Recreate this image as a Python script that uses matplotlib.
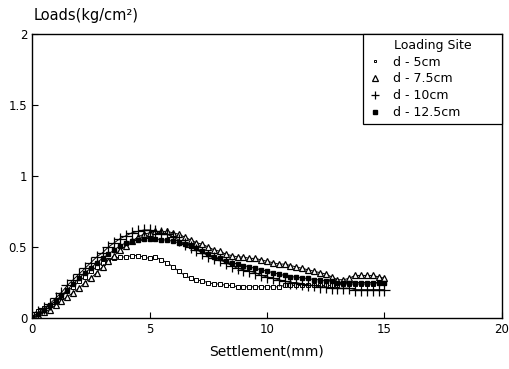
import numpy as np
import matplotlib
matplotlib.use("Agg")
import matplotlib.pyplot as plt

# settlement grid (mm), one reading every 0.25 mm
settlement = np.arange(0, 15.01, 0.25)

# loads (kg/cm2)
d5 = [0.03, 0.05, 0.07, 0.09, 0.12, 0.15, 0.19, 0.22, 0.26, 0.29,
      0.33, 0.36, 0.39, 0.41, 0.42, 0.43, 0.43, 0.44, 0.44, 0.43,
      0.42, 0.43, 0.41, 0.39, 0.36, 0.33, 0.30, 0.28, 0.27, 0.26,
      0.25, 0.24, 0.24, 0.23, 0.23, 0.22, 0.22, 0.22, 0.22, 0.22,
      0.22, 0.22, 0.22, 0.23, 0.23, 0.23, 0.23, 0.23, 0.23, 0.23,
      0.23, 0.23, 0.23, 0.24, 0.24, 0.24, 0.24, 0.24, 0.24, 0.25,
      0.25]
d75 = [0.00, 0.02, 0.04, 0.06, 0.09, 0.12, 0.15, 0.18, 0.21, 0.25,
       0.28, 0.32, 0.36, 0.40, 0.44, 0.48, 0.51, 0.54, 0.57, 0.59,
       0.60, 0.61, 0.61, 0.61, 0.60, 0.59, 0.57, 0.55, 0.53, 0.52,
       0.50, 0.48, 0.47, 0.45, 0.44, 0.43, 0.43, 0.42, 0.42, 0.41,
       0.40, 0.39, 0.38, 0.38, 0.37, 0.36, 0.35, 0.34, 0.33, 0.32,
       0.31, 0.29, 0.27, 0.27, 0.28, 0.30, 0.30, 0.30, 0.30, 0.29,
       0.28]
d10 = [0.00, 0.04, 0.07, 0.10, 0.14, 0.18, 0.23, 0.27, 0.31, 0.35,
       0.39, 0.43, 0.46, 0.50, 0.53, 0.56, 0.58, 0.60, 0.61, 0.62,
       0.62, 0.61, 0.60, 0.59, 0.57, 0.55, 0.52, 0.50, 0.48, 0.46,
       0.44, 0.42, 0.41, 0.39, 0.37, 0.35, 0.34, 0.33, 0.32, 0.30,
       0.29, 0.28, 0.27, 0.26, 0.25, 0.25, 0.24, 0.23, 0.23, 0.22,
       0.22, 0.21, 0.21, 0.21, 0.21, 0.20, 0.20, 0.20, 0.20, 0.20,
       0.20]
d125 = [0.01, 0.03, 0.06, 0.09, 0.12, 0.16, 0.20, 0.24, 0.28, 0.32,
        0.35, 0.39, 0.42, 0.45, 0.48, 0.51, 0.53, 0.54, 0.55, 0.56,
        0.56, 0.56, 0.55, 0.55, 0.54, 0.53, 0.52, 0.51, 0.49, 0.47,
        0.45, 0.43, 0.42, 0.40, 0.39, 0.38, 0.37, 0.36, 0.35, 0.34,
        0.33, 0.32, 0.31, 0.30, 0.29, 0.29, 0.28, 0.28, 0.27, 0.27,
        0.26, 0.26, 0.25, 0.25, 0.25, 0.25, 0.25, 0.25, 0.25, 0.25,
        0.25]

labels = ['d - 5cm', 'd - 7.5cm', 'd - 10cm', 'd - 12.5cm']
xticks = [0, 5, 10, 15, 20]
yticks = [0, 0.5, 1, 1.5, 2]
yticklabels = ['0', '0.5', '1', '1.5', '2']

fig = plt.figure(figsize=(5.09, 3.69), dpi=100)
ax = fig.add_axes([0.063, 0.138, 0.923, 0.770])

ax.plot(settlement, d5, color='black', lw=0.7, marker='s', ms=2.5,
        mfc='white', mec='black', mew=0.7, label=labels[0])
ax.plot(settlement, d75, color='black', lw=0.7, marker='^', ms=5,
        mfc='white', mec='black', mew=0.9, label=labels[1])
ax.plot(settlement, d10, color='black', lw=0.7, marker='+', ms=8,
        mew=0.9, label=labels[2])
ax.plot(settlement, d125, color='black', lw=0.7, marker='s', ms=3.5,
        mfc='black', mec='black', label=labels[3])

ax.set_xlim(0, 20)
ax.set_ylim(0, 2)
ax.set_xticks(xticks)
ax.set_yticks(yticks)
ax.set_yticklabels(yticklabels)
ax.tick_params(direction='in', length=4, labelsize=8.5, width=0.8)
for s in ax.spines.values():
    s.set_linewidth(1.0)

ax.set_xlabel('Settlement(mm)', fontsize=10, labelpad=6)
fig.text(0.066, 0.958, 'Loads(kg/cm\u00b2)', fontsize=10.5, ha='left', va='center')

# legend box stretched to the width it has in the original
leg = ax.legend(title='Loading Site', loc='upper right',
                bbox_to_anchor=(0.704, 0.70, 0.296, 0.30), mode='expand',
                fontsize=9, title_fontsize=9, fancybox=False,
                edgecolor='black', framealpha=1, borderaxespad=0,
                handlelength=1.2, handletextpad=0.8, labelspacing=0.3,
                borderpad=0.4, markerscale=0.8)
leg.get_frame().set_linewidth(0.9)
for line in leg.get_lines():
    line.set_linestyle('none')

fig.savefig('out.png', dpi=100)
